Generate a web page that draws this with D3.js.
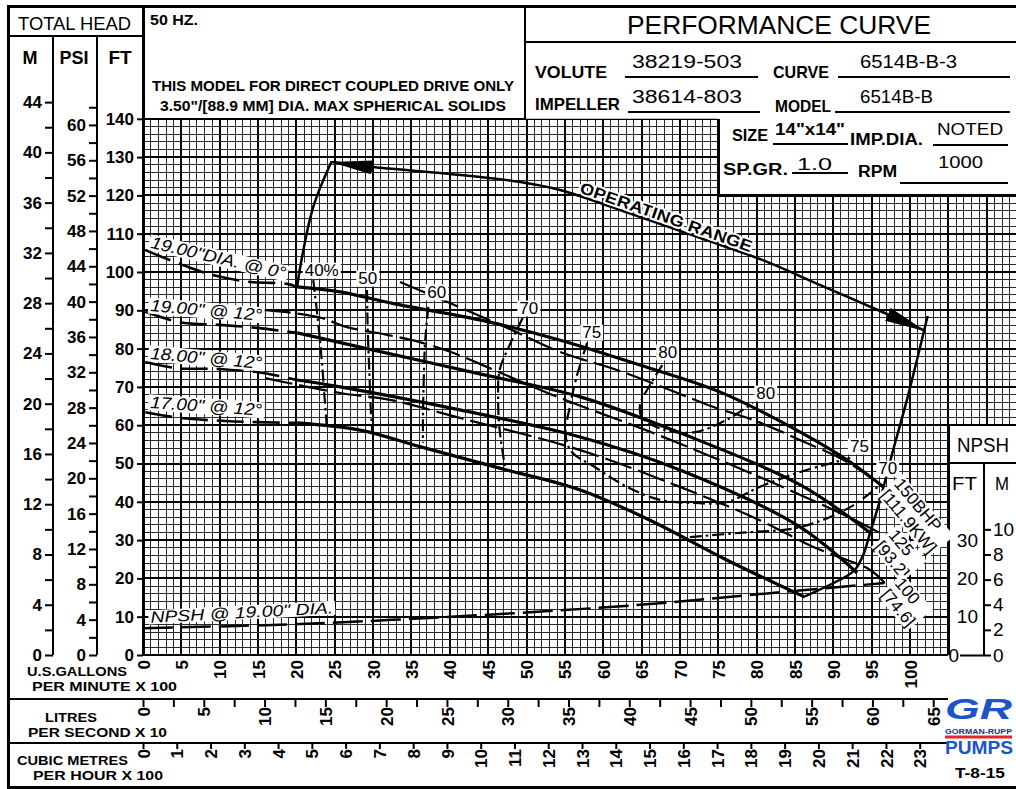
<!DOCTYPE html>
<html><head><meta charset="utf-8">
<script src="https://cdn.jsdelivr.net/npm/d3@7/dist/d3.min.js"></script>
<style>
html,body{margin:0;padding:0;background:#fff;}
svg{display:block;font-family:"Liberation Sans",Arial,Helvetica,sans-serif;}
</style></head><body>
<svg id="chart" width="1016" height="789"></svg>
<script>
// ================= DATA =================
// flow in U.S. GPM x 100, head in FT
const gpmTicks = d3.range(0, 101, 5);
const lpsTicks = d3.range(0, 66, 2.5);          // litres/s x 10
const cmhTicks = d3.range(0, 24, 1);            // m3/h x 100
const ftTicks = d3.range(0, 141, 10);
const psiTicks = d3.range(0, 63, 2);
const mTicks = d3.range(0, 45, 2);
const npshFtTicks = [0, 10, 20, 30];
const npshMTicks = [0, 2, 4, 6, 8, 10];

const headLabels = ['19.00"DIA. @ 0°', '19.00" @ 12°', '18.00" @ 12°', '17.00" @ 12°'];
const npshLabel = 'NPSH @ 19.00" DIA.';

// 19.00" @ 0°
const h1DashGpm = [0.3, 5.2, 9.1, 14.0, 18.8, 20.1];
const h1DashFt  = [105.7, 101.8, 99.2, 97.4, 96.9, 96.1];
const h1Gpm = [20.1, 25.7, 33.5, 43.9, 54.4, 64.8, 75.2, 85.7, 92.2, 96.5];
const h1Ft  = [96.1, 94.8, 91.4, 87.5, 82.2, 75.7, 68.7, 58.2, 50.4, 43.9];
// 19.00" @ 12°
const h2DashGpm = [0.3, 4.8, 10.0, 14.9, 20.1];
const h2DashFt  = [89.6, 86.9, 86.2, 85.4, 84.1];
const h2Gpm = [20.1, 28.3, 43.9, 57.0, 70.0, 85.7, 94.8];
const h2Ft  = [84.1, 80.4, 73.4, 67.4, 58.0, 44.4, 31.9];
// 18.00" @ 12°
const h3DashGpm = [0.3, 4.4, 9.6, 14.9, 20.1];
const h3DashFt  = [76.5, 74.9, 74.7, 73.9, 71.8];
const h3Gpm = [20.1, 25.7, 41.3, 57.0, 70.0, 85.7, 93.1];
const h3Ft  = [71.8, 70.0, 64.0, 56.9, 48.3, 33.4, 21.4];
// 17.00" @ 12°
const h4DashGpm = [0.3, 4.8, 10.7, 14.9, 20.1];
const h4DashFt  = [63.4, 61.9, 61.1, 60.8, 60.6];
const h4Gpm = [20.1, 28.3, 36.1, 46.5, 57.0, 66.1, 76.1, 86.3];
const h4Ft  = [60.6, 58.7, 54.4, 48.8, 43.1, 35.2, 24.8, 15.1];

// BHP lines
const bhpLabels = [["150BHP", "[111.9KW]"], ["125", "[93.2]"], ["100", "[74.6]"]];
const bhp150Gpm = [33.5, 40.0, 47.5, 54.4, 61.8, 68.7, 74.3, 79.5, 85.7, 91.8, 96.5];
const bhp150Ft  = [97.4, 91.9, 85.4, 79.1, 74.4, 69.2, 64.8, 61.4, 56.1, 50.4, 43.9];
const bhp125Gpm = [15.6, 19.6, 23.3, 26.6, 31.8, 36.1, 40.4, 45.2, 54.4, 64.8, 75.2, 85.7, 92.2, 97.4];
const bhp125Ft  = [90.1, 89.3, 88.0, 85.6, 83.6, 81.7, 78.9, 74.9, 67.1, 59.3, 50.9, 41.8, 35.8, 30.5];
const bhp100Gpm = [15.9, 25.7, 32.2, 41.3, 57.0, 70.0, 80.4, 87.4, 94.8, 96.7];
const bhp100Ft  = [72.3, 68.4, 66.6, 61.9, 53.5, 43.9, 35.2, 28.2, 22.2, 18.8];

// efficiency contours (%)
const effLabels = ["40%", "50", "60", "70", "75", "80", "80", "75", "70"];
const eff40Gpm = [22.2, 22.8, 23.3, 23.7, 24.0];
const eff40Ft  = [97.9, 87.5, 77.0, 66.6, 58.7];
const eff50Gpm = [29.2, 29.3, 29.5, 29.7, 29.9];
const eff50Ft  = [95.3, 84.9, 74.4, 64.0, 58.0];
const eff60Gpm = [37.2, 36.8, 36.6, 36.5, 36.5];
const eff60Ft  = [90.9, 82.2, 71.8, 61.4, 55.4];
const eff70aGpm = [49.5, 47.8, 46.5, 46.3, 46.5, 47.2];
const eff70aFt  = [88.0, 80.9, 74.4, 66.6, 58.7, 49.1];
const eff70bGpm = [71.3, 77.8, 85.7, 92.2, 96.1];
const eff70bFt  = [30.8, 31.9, 33.4, 38.6, 44.4];
const eff75Gpm = [57.9, 56.6, 55.7, 55.1, 55.9, 58.9, 63.1, 67.4, 71.7, 76.1, 80.4, 85.7, 92.2];
const eff75Ft  = [81.5, 73.1, 65.3, 57.4, 53.0, 49.1, 43.9, 40.5, 39.7, 39.9, 43.9, 47.8, 51.4];
const eff80Gpm = [67.7, 66.1, 64.8, 65.1, 68.1, 72.0, 76.1, 79.5];
const eff80Ft  = [75.7, 70.5, 65.3, 61.9, 58.7, 58.2, 61.4, 65.8];

// NPSH required (ft)
const npshGpm = [0, 20.5, 43.9, 64.8, 80.4, 96.7];
const npshFt  = [7.0, 8.1, 10.4, 13.1, 15.9, 18.8];

// operating range outline
const opLeftGpm = [20.1, 20.5, 22.2, 24.6];
const opLeftFt  = [96.1, 101.3, 117.0, 128.9];
const opTopGpm = [24.6, 29.9, 40.0, 49.2, 54.4, 62.2, 72.6, 80.8, 88.3, 96.7, 102.0];
const opTopFt  = [128.7, 127.4, 125.6, 123.5, 121.4, 116.2, 108.9, 103.1, 96.6, 89.3, 84.6];
const opRightGpm = [102.3, 99.6, 97.8, 96.1, 94.8, 93.9, 92.8, 91.3, 86.3];
const opRightFt  = [88.5, 66.6, 53.5, 40.5, 31.9, 26.1, 22.2, 20.1, 15.3];

// ================= SCALES =================
const FT_PER_M = 3.28084, FT_PER_PSI = 2.30666, GPM_PER_LPS = 15.8503, GPM_PER_CMH = 4.40287;
const x = d3.scaleLinear().domain([0, 100]).range([143, 910]);
const y = d3.scaleLinear().domain([0, 140]).range([655, 118.8]);
const yM = d3.scaleLinear().domain([0, 140 / FT_PER_M]).range(y.range());
const yPsi = d3.scaleLinear().domain([0, 140 / FT_PER_PSI]).range(y.range());
const xLps = d3.scaleLinear().domain([0, 100 * 100 / (GPM_PER_LPS * 10)]).range(x.range());
const xCmh = d3.scaleLinear().domain([0, 100 / GPM_PER_CMH]).range(x.range());

const svg = d3.select("#chart");
const defs = svg.append("defs");
svg.append("rect").attr("width", 1016).attr("height", 789).attr("fill", "#fff");

// grid clip region
const gridPoly = [[x(0), y(140)], [x(75), y(140)], [x(75), y(120)], [1016, y(120)], [1016, y(60)],
                  [x(105), y(60)], [x(105), y(0)], [x(0), y(0)]];
defs.append("clipPath").attr("id", "gclip").append("polygon").attr("points", gridPoly.map(p => p.join(",")).join(" "));

const grid = svg.append("g").attr("clip-path", "url(#gclip)").attr("shape-rendering", "crispEdges");
d3.range(0, 115, 1).forEach(u => {
  grid.append("line").attr("x1", x(u)).attr("x2", x(u)).attr("y1", y(140)).attr("y2", y(0))
    .attr("stroke", u % 5 === 0 ? "#000" : "#2a2a2a").attr("stroke-width", u % 5 === 0 ? 2 : 1);
});
d3.range(0, 141, 2).forEach(f => {
  grid.append("line").attr("x1", x(0)).attr("x2", 1016).attr("y1", y(f)).attr("y2", y(f))
    .attr("stroke", f % 10 === 0 ? "#000" : "#2a2a2a").attr("stroke-width", f % 10 === 0 ? 2 : 1);
});

// ================= FRAME LINES =================
const frame = svg.append("g").attr("stroke", "#000").attr("shape-rendering", "crispEdges");
function hl(x1, x2, yy, w) { frame.append("line").attr("x1", x1).attr("x2", x2).attr("y1", yy).attr("y2", yy).attr("stroke-width", w || 2); }
function vl(xx, y1, y2, w) { frame.append("line").attr("x1", xx).attr("x2", xx).attr("y1", y1).attr("y2", y2).attr("stroke-width", w || 2); }
vl(8, 5, 788, 3);
hl(7, 1016, 6, 3);
hl(7, 1016, 787, 3);
vl(143, 5, y(0), 3);
hl(8, 143, 36, 2);
vl(53, 36, y(0), 2.5);
vl(97, 36, y(0), 2.5);
hl(143, 525, y(140), 2.5);
vl(525, 5, y(140), 2.5);
hl(525, 1016, 42, 2.5);
vl(x(75), y(140), y(120), 2.5);
hl(x(75), 1016, y(120), 2.5);
hl(x(105), 1016, y(60), 2.5);
vl(x(105), y(60), y(0), 2.5);
hl(x(105), 1016, 463, 2);
vl(984, 463, y(0), 2.5);
hl(143, x(105), y(0), 2.5);
hl(8, x(105), 699, 2.5);
hl(8, x(105), 743, 2.5);

// ================= CURVES =================
const line = d3.line().x(d => x(d[0])).y(d => y(d[1])).curve(d3.curveCatmullRom.alpha(0.5));
const curves = svg.append("g").attr("fill", "none").attr("stroke", "#000").attr("stroke-linecap", "butt");
function draw(g, f, w, dash) {
  return curves.append("path").attr("d", line(d3.zip(g, f))).attr("stroke-width", w).attr("stroke-dasharray", dash || null);
}
// NPSH
draw(npshGpm, npshFt, 2.5, "30,8");
// BHP
draw(bhp150Gpm, bhp150Ft, 2.2, "28,7");
draw(bhp125Gpm, bhp125Ft, 2.2, "28,7");
draw(bhp100Gpm, bhp100Ft, 2.2, "28,7");
// efficiency
const effDash = "12,4,2.5,4";
[[eff40Gpm, eff40Ft], [eff50Gpm, eff50Ft], [eff60Gpm, eff60Ft], [eff70aGpm, eff70aFt],
 [eff70bGpm, eff70bFt], [eff75Gpm, eff75Ft], [eff80Gpm, eff80Ft]].forEach(c => draw(c[0], c[1], 2.2, effDash));
// head
[[h1DashGpm, h1DashFt], [h2DashGpm, h2DashFt], [h3DashGpm, h3DashFt], [h4DashGpm, h4DashFt]]
  .forEach(c => draw(c[0], c[1], 2.6, "27,9"));
[[h1Gpm, h1Ft], [h2Gpm, h2Ft], [h3Gpm, h3Ft], [h4Gpm, h4Ft]].forEach(c => draw(c[0], c[1], 3.2));

// operating range
defs.append("marker").attr("id", "arr").attr("viewBox", "0 0 42 14").attr("refX", 41).attr("refY", 7)
  .attr("markerWidth", 42).attr("markerHeight", 14).attr("markerUnits", "userSpaceOnUse")
  .attr("orient", "auto-start-reverse")
  .append("path").attr("d", "M0,0L42,7L0,14Z").attr("fill", "#000");
draw(opLeftGpm, opLeftFt, 2.5);
draw(opRightGpm, opRightFt, 2.5);
const topPath = draw(opTopGpm, opTopFt, 2.5).attr("id", "opTop")
  .attr("marker-start", "url(#arr)").attr("marker-end", "url(#arr)");

// ================= LABELS =================
const lab = svg.append("g");
function label(gx, gy, angle, lines, o) {
  o = o || {};
  const fs = o.size || 16;
  const g = lab.append("g").attr("transform", `translate(${gx},${gy}) rotate(${angle})`);
  const t = g.append("text").attr("font-size", fs).attr("fill", "#000")
    .attr("font-style", o.italic ? "italic" : null).attr("font-weight", o.weight || null)
    .attr("text-anchor", o.anchor || "start");
  lines.forEach((s, i) => {
    const ts = t.append("tspan").attr("x", 0).attr("dy", i ? (o.lh || "1.0em") : 0).text(s);
    if (o.len && o.len[i]) ts.attr("textLength", o.len[i]).attr("lengthAdjust", "spacingAndGlyphs");
  });
  if (o.knock !== false) {
    const bb = t.node().getBBox();
    g.insert("rect", "text").attr("x", bb.x - 2).attr("y", bb.y + 1.5)
      .attr("width", bb.width + 4).attr("height", bb.height - 3).attr("fill", "#fff");
  }
  return g;
}
// head labels
label(x(0.9), y(106.3), 13, [headLabels[0]], {italic: true, size: 17, len: [138]});
label(x(0.9), y(89.8), 5, [headLabels[1]], {italic: true, size: 17, len: [112]});
label(x(0.9), y(77.3), 5, [headLabels[2]], {italic: true, size: 17, len: [112]});
label(x(0.9), y(64.5), 4, [headLabels[3]], {italic: true, size: 17, len: [112]});
label(x(1.0), y(8.4), -3, [npshLabel], {italic: true, size: 16, len: [183]});

// efficiency labels (centres)
const effPos = [[23.3, 100.5], [29.3, 98.4], [38.3, 94.8], [50.3, 90.6], [58.5, 84.3],
                [68.4, 79.1], [81.2, 68.4], [93.4, 54.6], [97.1, 48.8]];
effLabels.forEach((s, i) => label(x(effPos[i][0]), y(effPos[i][1]) + 6, 0, [s], {size: 17, anchor: "middle"}));

// BHP labels
const bhpPos = [[97.8, 44.6], [97.1, 31.2], [97.9, 18.6]];
bhpLabels.forEach((s, i) => label(x(bhpPos[i][0]), y(bhpPos[i][1]), 50, s, {size: 17, lh: "1.05em"}));

// operating range text on path
(function () {
  const node = topPath.node(), L = node.getTotalLength();
  function lenAtX(px) { let lo = 0, hi = L; for (let i = 0; i < 40; i++) { const m = (lo + hi) / 2; if (node.getPointAtLength(m).x < px) lo = m; else hi = m; } return lo; }
  const s0 = lenAtX(x(56.7)), s1 = lenAtX(x(79.0));
  svg.append("text").attr("font-size", 16).attr("font-weight", "bold").attr("dy", -3)
    .attr("stroke", "#fff").attr("stroke-width", 4).attr("paint-order", "stroke").attr("stroke-linejoin", "round")
    .append("textPath").attr("href", "#opTop").attr("startOffset", s0)
    .attr("textLength", s1 - s0).attr("lengthAdjust", "spacingAndGlyphs").text("OPERATING RANGE");
})();

// ================= AXES =================
const axisFont = g => g.selectAll("text").attr("font-size", 17).attr("font-weight", "bold")
  .attr("font-family", '"Liberation Sans",Arial,sans-serif').attr("fill", "#000");
const tickStyle = g => g.selectAll(".tick line").attr("stroke", "#000").attr("stroke-width", 2);

svg.append("g").attr("transform", "translate(53,0)")
  .call(d3.axisLeft(yM).tickValues(mTicks).tickSize(8).tickPadding(3).tickFormat(d => d % 4 === 0 ? d : ""))
  .call(g => g.select(".domain").remove()).call(axisFont).call(tickStyle);
svg.append("g").attr("transform", "translate(97,0)")
  .call(d3.axisLeft(yPsi).tickValues(psiTicks).tickSize(8).tickPadding(3).tickFormat(d => d % 4 === 0 ? d : ""))
  .call(g => g.select(".domain").remove()).call(axisFont).call(tickStyle);
svg.append("g").attr("transform", "translate(143,0)")
  .call(d3.axisLeft(y).tickValues(ftTicks).tickSize(6).tickPadding(3))
  .call(g => g.select(".domain").remove()).call(axisFont).call(tickStyle);

// NPSH axes
svg.append("g").attr("transform", "translate(984,0)")
  .call(d3.axisRight(yM).tickValues(npshMTicks).tickSize(7).tickPadding(2))
  .call(g => g.select(".domain").remove()).call(axisFont).call(tickStyle)
  .call(g => g.selectAll("text").attr("font-weight", "normal").attr("font-size", 19));
svg.append("g").attr("transform", "translate(984,0)")
  .call(d3.axisLeft(y).tickValues(npshFtTicks).tickSize(0).tickPadding(6))
  .call(g => g.select(".domain").remove()).call(axisFont).call(tickStyle)
  .call(g => g.selectAll("text").attr("font-weight", "normal").attr("font-size", 19))
  .call(g => g.selectAll(".tick").filter(d => d === 0).each(function () {
    d3.select(this).select("line").attr("x2", -24);
    d3.select(this).select("text").attr("x", -25);
  }));

function rotLabels(g, off) {
  g.selectAll("text").attr("transform", "rotate(-90)").attr("y", 0).attr("x", -off)
    .attr("dy", "0.36em").attr("text-anchor", "end");
}
svg.append("g").attr("transform", `translate(0,${y(0)})`)
  .call(d3.axisBottom(x).tickValues(gpmTicks).tickSize(0))
  .call(g => g.select(".domain").remove()).call(axisFont).call(g => rotLabels(g, 5));
svg.append("g").attr("transform", "translate(0,699)")
  .call(d3.axisBottom(xLps).tickValues(lpsTicks).tickSize(8).tickFormat(d => d % 5 === 0 ? d : ""))
  .call(g => g.select(".domain").remove()).call(axisFont).call(tickStyle).call(g => rotLabels(g, 8));
svg.append("g").attr("transform", "translate(0,743)")
  .call(d3.axisBottom(xCmh).tickValues(cmhTicks).tickSize(6))
  .call(g => g.select(".domain").remove()).call(axisFont).call(tickStyle).call(g => rotLabels(g, 6));

// ================= TEXT BLOCKS =================
const tx = svg.append("g").attr("fill", "#000");
function T(str, px, py, o) {
  o = o || {};
  const t = tx.append("text").attr("x", px).attr("y", py).attr("font-size", o.size || 16)
    .attr("font-weight", o.weight || "bold").attr("text-anchor", o.anchor || "start").text(str);
  if (o.len) t.attr("textLength", o.len).attr("lengthAdjust", "spacingAndGlyphs");
  if (o.fill) t.attr("fill", o.fill);
  if (o.style) t.attr("font-style", o.style);
  return t;
}
T("TOTAL HEAD", 18, 30, {size: 18, len: 113, weight: "normal"});
T("M", 30, 64, {size: 18, anchor: "middle"});
T("PSI", 74, 64, {size: 18, anchor: "middle"});
T("FT", 120, 64, {size: 19, anchor: "middle"});
T("50 HZ.", 150, 25, {size: 14, len: 48});
T("THIS MODEL FOR DIRECT COUPLED DRIVE ONLY", 152, 91, {size: 15, len: 362});
T('3.50"/[88.9 MM] DIA. MAX SPHERICAL SOLIDS', 160, 111, {size: 15, len: 346});

T("PERFORMANCE CURVE", 627, 34, {size: 26, len: 304, weight: "normal"});
T("VOLUTE", 535, 78, {size: 17, len: 72});
T("38219-503", 632, 68, {size: 18, len: 110, weight: "normal"});
T("CURVE", 773, 78, {size: 17, len: 56});
T("6514B-B-3", 860, 68, {size: 18, len: 97, weight: "normal"});
T("IMPELLER", 535, 110, {size: 17, len: 85});
T("38614-803", 632, 103, {size: 18, len: 110, weight: "normal"});
T("MODEL", 775, 112, {size: 17, len: 56});
T("6514B-B", 860, 103, {size: 18, len: 73, weight: "normal"});
T("SIZE", 732, 141, {size: 16, len: 36});
T('14"x14"', 775, 135, {size: 16, len: 70});
T("IMP.DIA.", 850, 145, {size: 16, len: 73});
T("NOTED", 937, 135, {size: 17, len: 66, weight: "normal"});
T("SP.GR.", 723, 175, {size: 16, len: 65});
T("1.0", 797, 170, {size: 17, len: 35, weight: "normal"});
T("RPM", 858, 177, {size: 16, len: 39});
T("1000", 938, 168, {size: 17, len: 45, weight: "normal"});
[[625, 758, 77], [838, 1010, 77], [628, 760, 112], [835, 1010, 112], [773, 848, 144],
 [933, 1008, 145], [792, 848, 173], [900, 1008, 183]].forEach(u => hl(u[0], u[1], u[2], 1.5));

T("NPSH", 957, 452, {size: 20, len: 52, weight: "normal"});
T("FT", 952, 490, {size: 19, len: 25, weight: "normal"});
T("M", 995, 490, {size: 19, len: 14, weight: "normal"});

T("U.S.GALLONS", 27, 676, {size: 13, len: 100});
T("PER MINUTE X 100", 32, 691, {size: 13, len: 145});
T("LITRES", 45, 722, {size: 13, len: 52});
T("PER SECOND X 10", 28, 737, {size: 13, len: 139});
T("CUBIC METRES", 17, 765, {size: 13, len: 111});
T("PER HOUR X 100", 33, 780, {size: 13, len: 130});

// logo
T("GR", 945, 719, {size: 30, len: 67, fill: "#1b55c9", style: "italic", weight: "900"});
T("GORMAN-RUPP", 945, 734, {size: 8, len: 67, fill: "#10397f"});
tx.append("rect").attr("x", 945).attr("y", 735.5).attr("width", 67).attr("height", 3).attr("fill", "#e3262b");
T("PUMPS", 945, 754, {size: 18, len: 68, fill: "#1b55c9", weight: "900"});
T("T-8-15", 955, 778, {size: 15, len: 50});
</script>
</body></html>
